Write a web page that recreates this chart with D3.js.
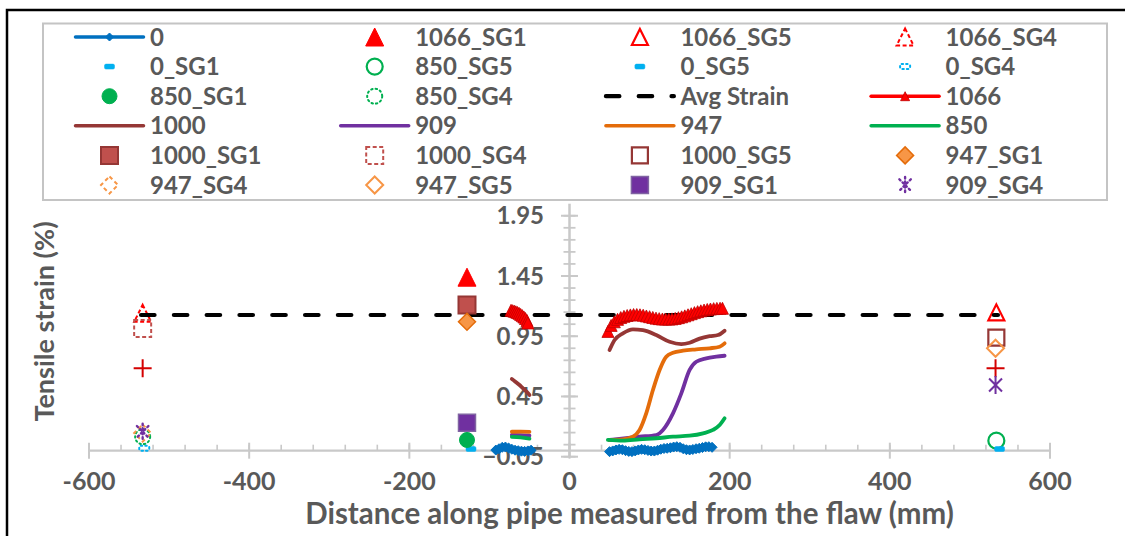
<!DOCTYPE html>
<html>
<head>
<meta charset="utf-8">
<script src="https://cdn.jsdelivr.net/npm/d3@7"></script>
<style>
  body { margin: 0; background: #fff; }
  svg { display: block; }
  text { font-family: Lato, "Open Sans", sans-serif; font-weight: 700; fill: #595959; }
</style>
</head>
<body>
<svg id="chart" width="1125" height="536"></svg>
<script>
// ---- axis ticks ----
const xTickLabels = [-600, -400, -200, 0, 200, 400, 600];
const yTickLabels = [-0.05, 0.45, 0.95, 1.45, 1.95];

// ---- strain traces: distance (mm) / tensile strain (%) ----
const s0LeftX  = [-92, -88, -84, -80, -76, -72, -68, -64, -60, -56, -52, -48];
const s0LeftY  = [0.005, 0.016, 0.028, 0.030, 0.022, 0.012, 0.004, 0.000, -0.004, -0.006, -0.002, 0.004];
const s0RightX = [50, 54, 58, 62, 66, 70, 74, 78, 82, 86, 90, 94, 98, 102, 106, 110, 114, 118, 122, 126, 130, 134, 138, 142, 146, 150, 154, 158, 162, 166, 170, 174, 178];
const s0RightY = [-0.008, -0.002, 0.006, 0.011, 0.008, 0.000, -0.006, -0.008, -0.002, 0.006, 0.011, 0.008, 0.002, -0.003, -0.003, 0.004, 0.012, 0.018, 0.020, 0.024, 0.030, 0.033, 0.028, 0.016, 0.008, 0.006, 0.010, 0.016, 0.020, 0.026, 0.032, 0.033, 0.028];

const s1066LeftX  = [-73, -71, -69, -67, -65, -63, -61, -59, -57, -55, -53, -52];
const s1066LeftY  = [1.165, 1.162, 1.158, 1.153, 1.147, 1.140, 1.131, 1.121, 1.110, 1.097, 1.080, 1.060];
const s1066RightX = [48, 52, 56, 60, 64, 68, 72, 76, 80, 84, 88, 92, 96, 100, 104, 108, 112, 116, 120, 124, 128, 132, 136, 140, 144, 148, 152, 156, 160, 164, 168, 172, 176, 180, 184, 188, 191];
const s1066RightY = [0.99, 1.04, 1.07, 1.09, 1.105, 1.115, 1.122, 1.127, 1.13, 1.13, 1.128, 1.124, 1.118, 1.112, 1.106, 1.10, 1.096, 1.093, 1.092, 1.092, 1.094, 1.098, 1.104, 1.111, 1.119, 1.128, 1.137, 1.146, 1.154, 1.161, 1.167, 1.172, 1.176, 1.179, 1.181, 1.182, 1.182];

const s1000LeftX  = [-72, -68, -64, -60, -56, -52, -50];
const s1000LeftY  = [0.595, 0.575, 0.553, 0.530, 0.505, 0.478, 0.462];
const s1000RightX = [50, 56.3, 66.7, 79.2, 91.7, 108.3, 125, 139.6, 150, 162.5, 175, 185.4, 193.7];
const s1000RightY = [0.835, 0.918, 0.974, 1.007, 1.0, 0.96, 0.904, 0.885, 0.896, 0.93, 0.95, 0.96, 0.996];

const s947LeftX  = [-72, -61, -50];
const s947LeftY  = [0.157, 0.158, 0.156];
const s947RightX = [50, 66.7, 79.2, 87.5, 95.8, 104.2, 112.5, 120.8, 129.2, 141.7, 158.3, 175, 187.5, 193.7];
const s947RightY = [0.089, 0.094, 0.116, 0.172, 0.31, 0.504, 0.67, 0.78, 0.813, 0.83, 0.841, 0.85, 0.863, 0.891];

const s909LeftX  = [-72, -61, -50];
const s909LeftY  = [0.130, 0.128, 0.124];
const s909RightX = [50, 87.5, 108.3, 116.7, 129.2, 139.6, 150, 158.3, 170.8, 183.3, 193.7];
const s909RightY = [0.089, 0.116, 0.13, 0.172, 0.31, 0.476, 0.67, 0.738, 0.766, 0.78, 0.788];

const s850LeftX  = [-72, -61, -50];
const s850LeftY  = [0.115, 0.110, 0.100];
const s850RightX = [47.9, 66.7, 87.5, 108.3, 129.2, 150, 166.7, 179.2, 187.5, 193.7];
const s850RightY = [0.089, 0.083, 0.094, 0.103, 0.116, 0.124, 0.144, 0.172, 0.213, 0.269];

// average strain level
const avgX = [-535, 535];
const avgStrain = 1.126;

// ---- strain gauge readings: [distance mm, strain %] ----
const g1066SG1 = [[-128, 1.44]];
const g1066SG5 = [[533, 1.148]];
const g1066SG4 = [[-533, 1.14]];
const g0SG1    = [[-123, 0.014]];
const g850SG5  = [[533, 0.083]];
const g0SG5    = [[537, 0.014]];
const g0SG4    = [[-531, 0.02]];
const g850SG1  = [[-128, 0.089]];
const g850SG4  = [[-533, 0.116]];
const g1000SG1 = [[-128, 1.209]];
const g1000SG4 = [[-533, 1.014]];
const g1000SG5 = [[533, 0.938]];
const g947SG1  = [[-128, 1.07]];
const g947SG4  = [[-533, 0.146]];
const g947SG5  = [[532, 0.85]];
const g909SG1  = [[-128, 0.232]];
const g909SG4  = [[-533, 0.157]];
const g1066SG2 = [[-533, 0.684], [532, 0.684]];
const g909SG5  = [[532, 0.545]];

const legendNames = ["0", "1066_SG1", "1066_SG5", "1066_SG4",
                     "0_SG1", "850_SG5", "0_SG5", "0_SG4",
                     "850_SG1", "850_SG4", "Avg Strain", "1066",
                     "1000", "909", "947", "850",
                     "1000_SG1", "1000_SG4", "1000_SG5", "947_SG1",
                     "947_SG4", "947_SG5", "909_SG1", "909_SG4"];

// ---- styles ----
const C = {
  blue: "#0070C0", cyan: "#00B0F0", red: "#FF0000", darkRed: "#C00000",
  brown: "#953735", brownFill: "#C0504D", purple: "#7030A0",
  orange: "#E46C0A", orangeLt: "#F79646", green: "#00B050", plus: "#D40000"
};

const lineStyles = {
  "0":    { color: C.blue,   marker: { shape: "diamond", size: 10, fill: C.blue, stroke: C.blue, sw: 1 } },
  "1066": { color: C.red,    marker: { shape: "triangle", size: 12, fill: C.red, stroke: C.darkRed, sw: 0.8 } },
  "1000": { color: C.brown },
  "909":  { color: C.purple },
  "947":  { color: C.orange },
  "850":  { color: C.green }
};
const legendLineMarker = {
  "0":    { shape: "diamond", size: 8, fill: C.blue, stroke: C.blue, sw: 1 },
  "1066": { shape: "triangle", size: 9, fill: C.red, stroke: C.darkRed, sw: 0.8 }
};

const markerStyles = {
  "1066_SG1": { shape: "triangle", size: 18, fill: C.red, stroke: C.red, sw: 1 },
  "1066_SG5": { shape: "triangle", size: 16, fill: "none", stroke: C.red, sw: 2.2 },
  "1066_SG4": { shape: "triangle", size: 17, fill: "none", stroke: C.red, sw: 2, dash: "4,2.5" },
  "0_SG1":    { shape: "bar", size: 10, fill: C.cyan, stroke: C.cyan, sw: 0.5 },
  "850_SG5":  { shape: "circle", size: 16, fill: "none", stroke: C.green, sw: 2.2 },
  "0_SG5":    { shape: "bar", size: 10, fill: C.cyan, stroke: C.cyan, sw: 0.5 },
  "0_SG4":    { shape: "bar", size: 10, fill: "none", stroke: C.cyan, sw: 2, dash: "1.5,3" },
  "850_SG1":  { shape: "circle", size: 15, fill: C.green, stroke: C.green, sw: 1 },
  "850_SG4":  { shape: "circle", size: 15, fill: "none", stroke: C.green, sw: 2, dash: "1.5,3" },
  "1000_SG1": { shape: "square", size: 17, fill: C.brownFill, stroke: C.brown, sw: 2 },
  "1000_SG4": { shape: "square", size: 17, fill: "none", stroke: C.brownFill, sw: 2, dash: "4,2.5" },
  "1000_SG5": { shape: "square", size: 16, fill: "none", stroke: C.brown, sw: 2.2 },
  "947_SG1":  { shape: "diamond", size: 17, fill: C.orangeLt, stroke: C.orange, sw: 1.5 },
  "947_SG4":  { shape: "diamond", size: 17, fill: "none", stroke: C.orangeLt, sw: 2, dash: "4,3" },
  "947_SG5":  { shape: "diamond", size: 17, fill: "none", stroke: C.orangeLt, sw: 2 },
  "909_SG1":  { shape: "square", size: 17, fill: C.purple, stroke: "#8064A2", sw: 1.5 },
  "909_SG4":  { shape: "star", size: 16, fill: "none", stroke: C.purple, sw: 2.4, dash: "1.5,3" },
  "1066_SG2": { shape: "plus", size: 18, fill: "none", stroke: C.plus, sw: 2 },
  "909_SG5":  { shape: "star", size: 18, fill: "none", stroke: C.purple, sw: 2 }
};

const gaugeData = {
  "1066_SG1": g1066SG1, "1066_SG5": g1066SG5, "1066_SG4": g1066SG4,
  "0_SG1": g0SG1, "850_SG5": g850SG5, "0_SG5": g0SG5, "0_SG4": g0SG4,
  "850_SG1": g850SG1, "850_SG4": g850SG4,
  "1000_SG1": g1000SG1, "1000_SG4": g1000SG4, "1000_SG5": g1000SG5,
  "947_SG1": g947SG1, "947_SG4": g947SG4, "947_SG5": g947SG5,
  "909_SG1": g909SG1, "909_SG4": g909SG4,
  "1066_SG2": g1066SG2, "909_SG5": g909SG5
};

const zip = (xs, ys) => xs.map((v, i) => [v, ys[i]]);
const traces = {
  "0":    [zip(s0LeftX, s0LeftY), zip(s0RightX, s0RightY)],
  "1066": [zip(s1066LeftX, s1066LeftY), zip(s1066RightX, s1066RightY)],
  "1000": [zip(s1000LeftX, s1000LeftY), zip(s1000RightX, s1000RightY)],
  "909":  [zip(s909LeftX, s909LeftY), zip(s909RightX, s909RightY)],
  "947":  [zip(s947LeftX, s947LeftY), zip(s947RightX, s947RightY)],
  "850":  [zip(s850LeftX, s850LeftY), zip(s850RightX, s850RightY)]
};

// ---- geometry ----
const svg = d3.select("#chart");
const x = d3.scaleLinear().domain([-600, 600]).range([89, 1050]);
const y = d3.scaleLinear().domain([-0.05, 2.05]).range([456.7, 203.7]);
const axisColor = "#c9c9c9";

function markerPath(shape, s) {
  const h = s / 2;
  switch (shape) {
    case "triangle": return `M0,${-h}L${h},${h}L${-h},${h}Z`;
    case "square":   return `M${-h},${-h}H${h}V${h}H${-h}Z`;
    case "diamond":  return `M0,${-h}L${h},0L0,${h}L${-h},0Z`;
    case "circle":   return `M${h},0A${h},${h} 0 1,1 ${-h},0A${h},${h} 0 1,1 ${h},0Z`;
    case "plus":     return `M${-h},0H${h}M0,${-h}V${h}`;
    case "star": {
      const d = h * 0.72;
      return `M${-d},${-d}L${d},${d}M${d},${-d}L${-d},${d}M0,${-h}V${h}`;
    }
    case "bar":      return `M${-h + 1.5},-2.5H${h - 1.5}Q${h},-2.5 ${h},-1V1Q${h},2.5 ${h - 1.5},2.5H${-h + 1.5}Q${-h},2.5 ${-h},1V-1Q${-h},-2.5 ${-h + 1.5},-2.5Z`;
  }
}

function drawMarker(g, st, cx, cy) {
  g.append("path")
    .attr("d", markerPath(st.shape, st.size))
    .attr("transform", `translate(${cx},${cy})`)
    .attr("fill", st.fill)
    .attr("stroke", st.stroke)
    .attr("stroke-width", st.sw)
    .attr("stroke-dasharray", st.dash || null)
    .attr("stroke-linecap", st.dash && st.dash.startsWith("1.5") ? "round" : "butt");
}

// ---- outer chart frame ----
svg.append("rect").attr("x", 7).attr("y", 10).attr("width", 1130).attr("height", 540)
  .attr("fill", "#fff").attr("stroke", "#000").attr("stroke-width", 2.5);

// ---- axes ----
const axes = svg.append("g");
const x0 = x(0), yZero = y(0);

// horizontal axis (crosses at 0 strain)
axes.append("line").attr("x1", x(-600)).attr("x2", x(600)).attr("y1", yZero).attr("y2", yZero)
  .attr("stroke", axisColor).attr("stroke-width", 2.2);
axes.selectAll(".xminor").data(d3.range(-600, 601, 40)).join("line")
  .attr("x1", d => x(d)).attr("x2", d => x(d)).attr("y1", yZero - 6).attr("y2", yZero)
  .attr("stroke", axisColor).attr("stroke-width", 1.6);
axes.selectAll(".xmajor").data(xTickLabels).join("line")
  .attr("x1", d => x(d)).attr("x2", d => x(d)).attr("y1", yZero - 8).attr("y2", yZero + 8)
  .attr("stroke", axisColor).attr("stroke-width", 2);

// vertical axis (crosses at 0 mm)
axes.append("line").attr("x1", x0).attr("x2", x0).attr("y1", y(2.05)).attr("y2", y(-0.05))
  .attr("stroke", axisColor).attr("stroke-width", 2.5);
axes.selectAll(".yminor").data(d3.range(0, 21).map(i => -0.05 + i * 0.1)).join("line")
  .attr("x1", x0 - 6).attr("x2", x0 + 6).attr("y1", d => y(d)).attr("y2", d => y(d))
  .attr("stroke", axisColor).attr("stroke-width", 1.8);
axes.selectAll(".ymajor").data(yTickLabels).join("line")
  .attr("x1", x0 - 8.5).attr("x2", x0 + 8.5).attr("y1", d => y(d)).attr("y2", d => y(d))
  .attr("stroke", axisColor).attr("stroke-width", 2);

// tick labels
axes.selectAll(".ylab").data(yTickLabels).join("text")
  .attr("x", 544).attr("y", d => y(d)).attr("dy", "0.36em")
  .attr("text-anchor", "end").attr("font-size", 24)
  .text(d => d3.format(".2f")(d));
axes.selectAll(".xlab").data(xTickLabels).join("text")
  .attr("x", d => x(d)).attr("y", 480.5).attr("dy", "0.36em")
  .attr("text-anchor", "middle").attr("font-size", 25)
  .text(d => d);

// axis titles
svg.append("text").attr("x", 629.5).attr("y", 524).attr("text-anchor", "middle")
  .attr("font-size", 29.5).text("Distance along pipe measured from the flaw (mm)");
svg.append("text").attr("transform", "translate(54,321.5) rotate(-90)")
  .attr("text-anchor", "middle").attr("font-size", 27).text("Tensile strain (%)");

// ---- series ----
const plot = svg.append("g");
const lineGen = d3.line().x(d => x(d[0])).y(d => y(d[1])).curve(d3.curveMonotoneX);

function drawTrace(name) {
  const st = lineStyles[name];
  traces[name].forEach(seg => {
    plot.append("path").datum(seg).attr("d", lineGen)
      .attr("fill", "none").attr("stroke", st.color).attr("stroke-width", 3.8)
      .attr("stroke-linecap", "round").attr("stroke-linejoin", "round");
    if (st.marker) seg.forEach(p => drawMarker(plot, st.marker, x(p[0]), y(p[1])));
  });
}
function drawGauge(name) {
  gaugeData[name].forEach(p => drawMarker(plot, markerStyles[name], x(p[0]), y(p[1])));
}
function drawAvg() {
  plot.append("line")
    .attr("x1", x(avgX[0])).attr("x2", x(avgX[1]))
    .attr("y1", y(avgStrain)).attr("y2", y(avgStrain))
    .attr("stroke", "#000").attr("stroke-width", 4.2)
    .attr("stroke-dasharray", "13.5,19.3").attr("stroke-linecap", "round");
}

legendNames.forEach(name => {
  if (name === "Avg Strain") drawAvg();
  else if (lineStyles[name]) drawTrace(name);
  else drawGauge(name);
});
drawGauge("1066_SG2");
drawGauge("909_SG5");

// ---- legend ----
const legend = svg.append("g");
legend.append("rect").attr("x", 43).attr("y", 23.5).attr("width", 1064).attr("height", 176.5)
  .attr("fill", "#fff").attr("stroke", "#c4c4c4").attr("stroke-width", 2);

legendNames.forEach((name, i) => {
  const col = i % 4, row = Math.floor(i / 4);
  const cx = 109.5 + col * 265.2;
  const cy = 37 + row * 29.6;
  const g = legend.append("g");
  if (name === "Avg Strain") {
    g.append("line").attr("x1", cx - 34).attr("x2", cx + 34).attr("y1", cy).attr("y2", cy)
      .attr("stroke", "#000").attr("stroke-width", 4.2)
      .attr("stroke-dasharray", "13.5,19.3").attr("stroke-linecap", "round");
  } else if (lineStyles[name]) {
    const st = lineStyles[name];
    g.append("line").attr("x1", cx - 34).attr("x2", cx + 34).attr("y1", cy).attr("y2", cy)
      .attr("stroke", st.color).attr("stroke-width", 3.5).attr("stroke-linecap", "round");
    if (legendLineMarker[name]) drawMarker(g, legendLineMarker[name], cx, cy);
  } else {
    drawMarker(g, markerStyles[name], cx, cy);
  }
  g.append("text").attr("x", cx + 40.5).attr("y", cy).attr("dy", "0.36em")
    .attr("font-size", 24).text(name);
});
</script>
</body>
</html>
